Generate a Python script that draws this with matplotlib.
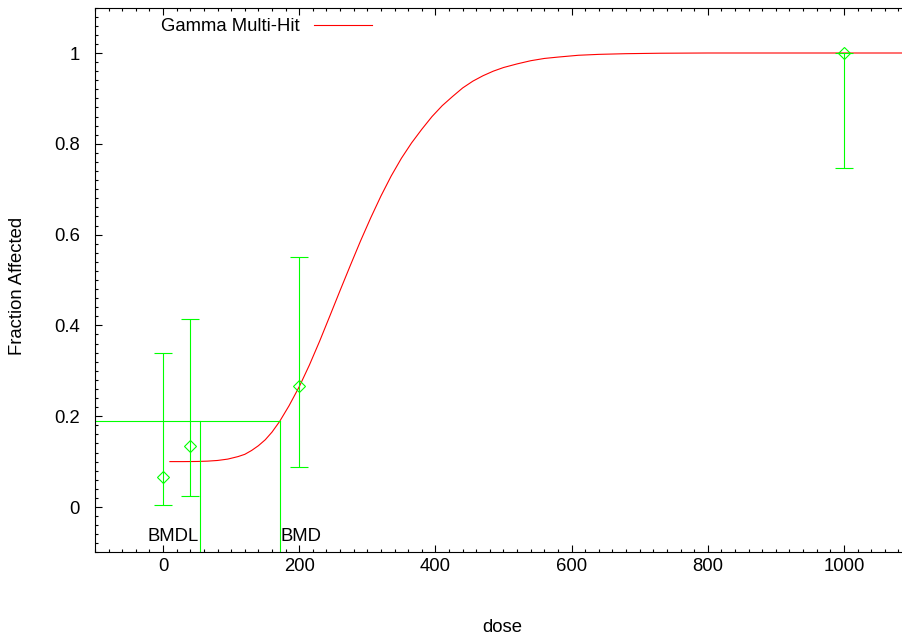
import numpy as np
import matplotlib.pyplot as plt
from matplotlib.ticker import MultipleLocator, FormatStrFormatter

plt.rcParams['font.family'] = ['Liberation Sans', 'DejaVu Sans']

# observed data (dose, fraction affected, confidence limits)
dose = [0, 40, 200, 1000]
frac = [0.0667, 0.1333, 0.2667, 1.0]
lower = [0.004, 0.024, 0.088, 0.747]
upper = [0.339, 0.414, 0.551, 1.0]

# fitted Gamma Multi-Hit curve
curve_dose = [10, 30, 50, 65, 80, 95, 110, 120, 130, 140, 150, 160, 171,
              185, 200, 215, 230, 245, 260, 275, 290, 305, 320, 335, 350,
              365, 380, 395, 410, 425, 440, 455, 470, 485, 500, 520, 540,
              560, 580, 610, 640, 680, 730, 800, 1100]
curve_frac = [0.100, 0.100, 0.1003, 0.101, 0.1025, 0.1055, 0.111, 0.116,
              0.1245, 0.135, 0.148, 0.165, 0.188, 0.223, 0.265, 0.313,
              0.3655, 0.421, 0.477, 0.532, 0.586, 0.637, 0.685, 0.729,
              0.768, 0.802, 0.832, 0.860, 0.884, 0.904, 0.923, 0.938,
              0.950, 0.960, 0.968, 0.976, 0.983, 0.988, 0.991, 0.995,
              0.997, 0.9985, 0.9995, 1.0, 1.0]

bmr_level = 0.19
bmd = 172
bmdl = 54

green = '#00ff00'

fig = plt.figure(figsize=(9.03, 6.37), dpi=100)
ax = fig.add_axes([95 / 903, (637 - 552.4) / 637, 817 / 903, 544.8 / 637])

ax.plot(curve_dose, curve_frac, color='red', lw=0.8, label='Gamma Multi-Hit')

yerr = [np.array(frac) - np.array(lower), np.array(upper) - np.array(frac)]
ax.errorbar(dose, frac, yerr=yerr, fmt='D', ms=6.3, mfc='none', mec=green,
            mew=0.8, ecolor=green, elinewidth=0.8, capsize=6.5, capthick=0.8)

# BMD / BMDL markers
ax.plot([-100, bmd], [bmr_level, bmr_level], color=green, lw=0.8)
ax.plot([bmd, bmd], [-0.1, bmr_level], color=green, lw=0.8)
ax.plot([bmdl, bmdl], [-0.1, bmr_level], color=green, lw=0.8)
ax.text(bmdl - 2, -0.066, 'BMDL', ha='right', va='center', fontsize=13.3)
ax.text(bmd + 1, -0.066, 'BMD', ha='left', va='center', fontsize=13.3)

ax.set_xlim(-100, 1100)
ax.set_ylim(-0.1, 1.1)
ax.xaxis.set_major_locator(MultipleLocator(200))
ax.xaxis.set_minor_locator(MultipleLocator(20))
ax.yaxis.set_major_locator(MultipleLocator(0.2))
ax.yaxis.set_minor_locator(MultipleLocator(0.02))
ax.yaxis.set_major_formatter(FormatStrFormatter('%g'))
ax.set_yticks([0, 0.2, 0.4, 0.6, 0.8, 1.0])
ax.set_xticks([0, 200, 400, 600, 800, 1000])

ax.tick_params(which='both', direction='in', top=True, right=False,
               width=0.8, labelsize=13.3)
ax.tick_params(axis='x', which='major', length=5, pad=4)
ax.tick_params(axis='y', which='major', length=5, pad=11)
ax.tick_params(which='minor', length=2.5)
ax.spines['right'].set_visible(False)
for s in ['left', 'top', 'bottom']:
    ax.spines[s].set_linewidth(0.8)

ax.set_xlabel('dose', fontsize=13.3)
ax.xaxis.label.set_va('center')
ax.xaxis.set_label_coords(0.499, -74.6 / 544.8)
ax.set_ylabel('Fraction Affected', fontsize=13.3)
ax.yaxis.label.set_va('center')
ax.yaxis.set_label_coords(-77 / 817, 0.49)

ax.legend(loc='upper left', bbox_to_anchor=(161 / 903, 1 - 18 / 637),
          bbox_transform=fig.transFigure, frameon=False, markerfirst=False,
          fontsize=13.3, handlelength=3.1, handletextpad=0.8,
          borderpad=0, borderaxespad=0)

fig.savefig('out.png', dpi=100)
